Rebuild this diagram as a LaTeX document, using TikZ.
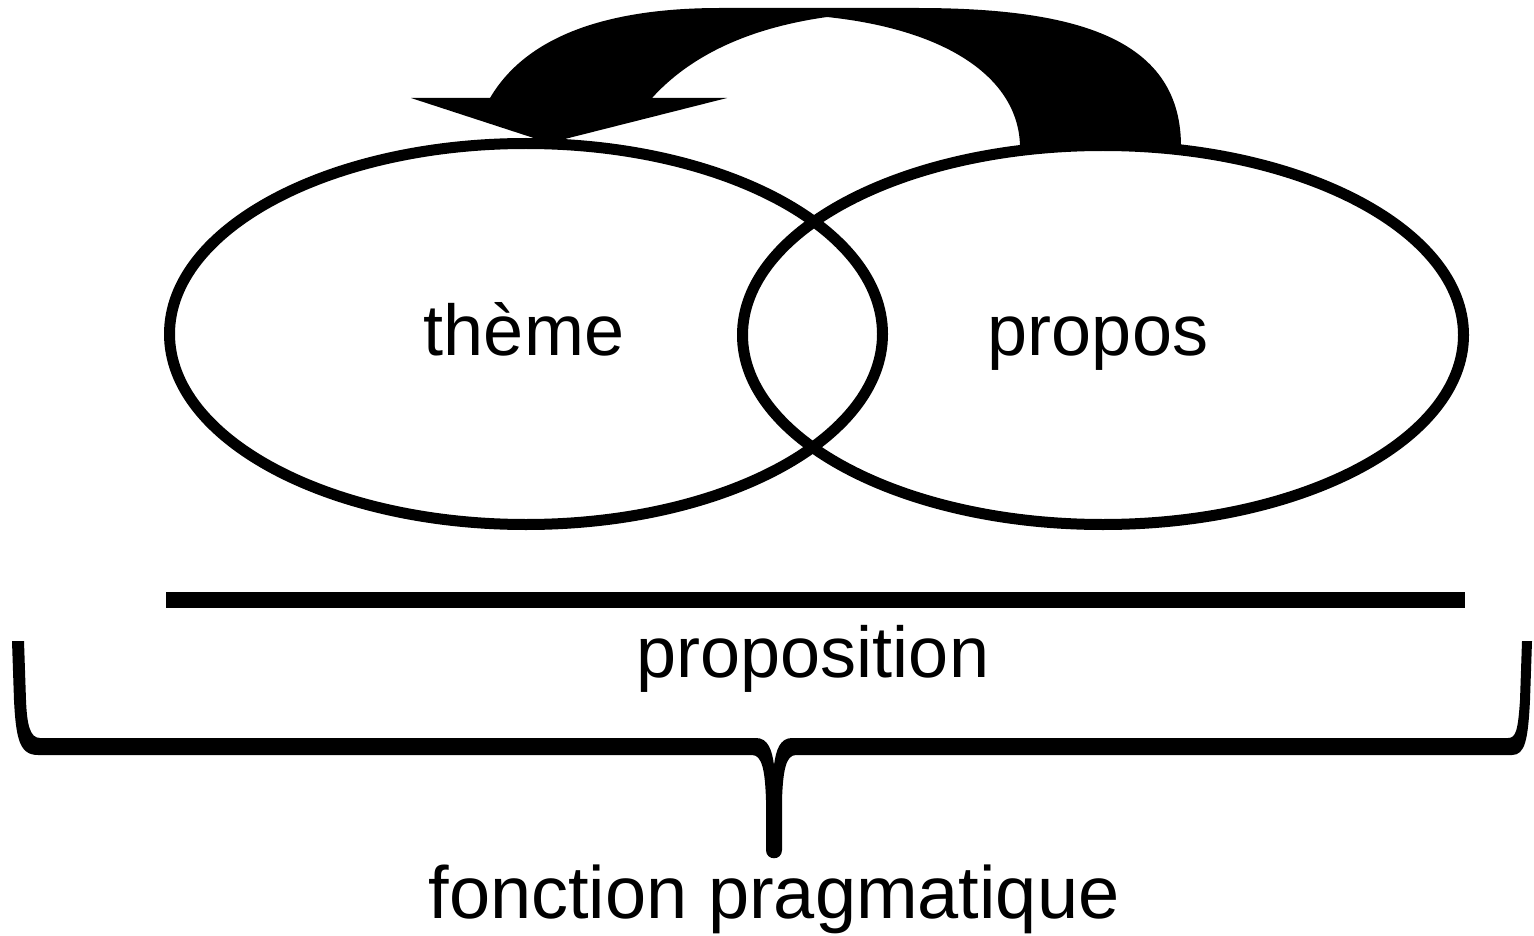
\documentclass[tikz,border=0pt]{standalone}
\usepackage{fontspec}
\setmainfont{Liberation Sans}
\usetikzlibrary{shapes.geometric}
\begin{document}
\begin{tikzpicture}[x=1pt,y=-1pt,
  ring/.style={draw=black,line width=11pt,ellipse,inner sep=0pt},
  lbl/.style={anchor=base,inner sep=0pt,font=\fontsize{72}{80}\selectfont},
  biglbl/.style={anchor=base,inner sep=0pt,font=\fontsize{74}{82}\selectfont}]
\useasboundingbox (0,0) rectangle (1534,936);
% curved arrow
\fill[black] (1181,148) .. controls (1182,40) and (1080,8) .. (917,8)
  -- (720,8) .. controls (620,8) and (530,30) .. (490,98)
  -- (411,98) -- (549,143) -- (727,98) -- (652,98)
  .. controls (700,45) and (770,25) .. (827,17)
  .. controls (950,30) and (1020,80) .. (1020,148) -- cycle;
% ellipses
\node[ring,minimum width=713pt,minimum height=381pt] (theme) at (526,334) {};
\node[ring,minimum width=721pt,minimum height=379pt] (propos) at (1103,335) {};
\node[lbl] (tt) at (524,355) {thème};
\node[lbl] (tp) at (1098,355) {propos};
% bar
\draw[line width=16pt] (166,600) -- (1465,600);
\node[lbl] (prop) at (813,677) {proposition};
% brace
\fill[black] (12,641) -- (14,700) .. controls (16,740) and (20,755) .. (38,755)
  -- (752,755) .. controls (762,755) and (765,770) .. (766,800)
  -- (766,850) .. controls (766,861) and (782,861) .. (782,850)
  -- (782,800) .. controls (783,770) and (786,755) .. (796,755)
  -- (1512,755) .. controls (1525,755) and (1528,740) .. (1530,700)
  -- (1532,641) -- (1522,641) -- (1520,700)
  .. controls (1518,730) and (1516,738) .. (1508,738)
  -- (792,738) .. controls (780,738) and (776,750) .. (774,765)
  .. controls (772,750) and (768,738) .. (756,738)
  -- (40,738) .. controls (30,738) and (27,725) .. (26,700) -- (24,641) -- cycle;
\node[biglbl] (fp) at (774,918) {fonction pragmatique};
\end{tikzpicture}
\end{document}
